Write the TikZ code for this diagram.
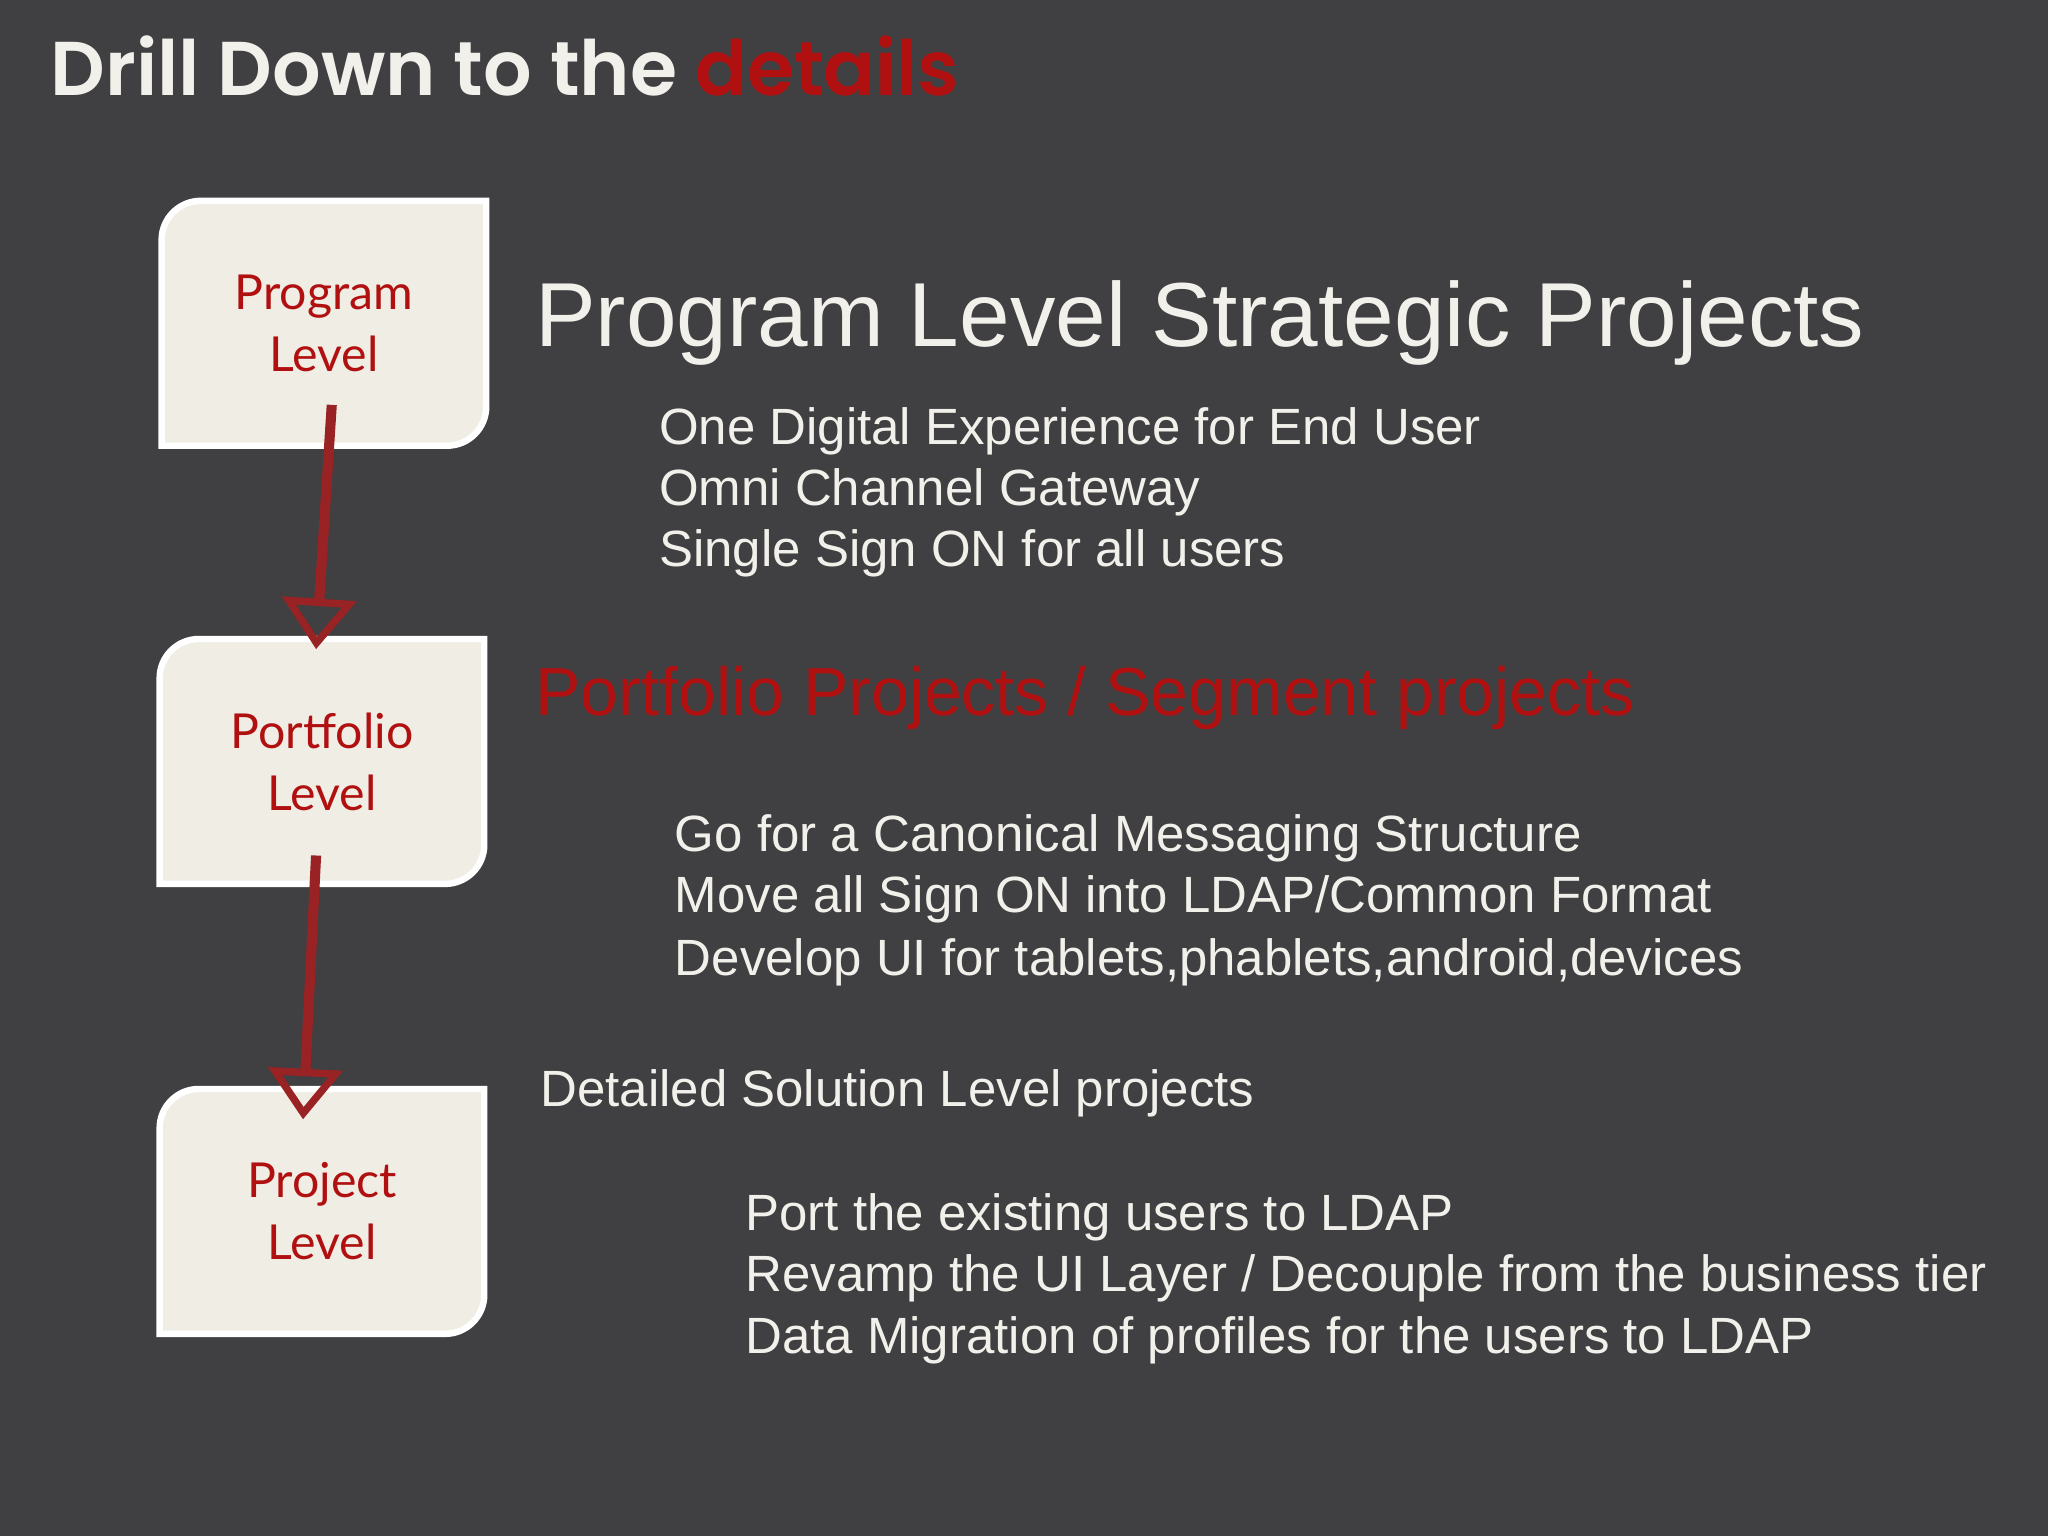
\documentclass[tikz,border=0pt]{standalone}
\usepackage{fontspec}
\setmainfont{Liberation Sans}
\newfontfamily\boxfont{Lato}
\newfontfamily\titlefont{Poppins SemiBold}
\usetikzlibrary{arrows.meta}
\definecolor{bg}{HTML}{403F41}
\definecolor{cream}{HTML}{F0EDE5}
\definecolor{dred}{HTML}{B01010}
\definecolor{arr}{HTML}{982224}
\definecolor{txt}{HTML}{F2F0EA}
\tikzset{
  box/.style={minimum width=2.47cm,minimum height=1.86cm,inner sep=0pt},
  boxtxt/.style={font=\boxfont\fontsize{10.5}{13.5}\selectfont,text=dred,align=center},
  item/.style={anchor=base west,inner sep=0pt,text=txt,font=\fontsize{11.1}{13}\selectfont},
  conn/.style={draw=arr,line width=2.2pt,-{Triangle[open,width=16pt,length=11pt,line width=1.6pt]}}
}
\newcommand{\boxshape}[1]{%
  \draw[white,line width=1.4pt,fill=cream]
   (#1.south west) -- ([yshift=-0.3cm]#1.north west) arc[start angle=180,end angle=90,radius=0.3cm]
   -- (#1.north east) -- ([yshift=0.3cm]#1.south east) arc[start angle=0,end angle=-90,radius=0.3cm] -- cycle;}
\begin{document}
\begin{tikzpicture}[x=0.01cm,y=-0.01cm]
\fill[bg] (0,0) rectangle (1568,1176);
\node[anchor=base west,inner sep=0pt,text=txt,font=\titlefont\fontsize{16.6}{20}\selectfont] (title) at (38,73) {Drill Down to the \textcolor{dred}{details}};
\node[box] (b1) at (248,247.5) {};
\node[box] (b2) at (246.5,583) {};
\node[box] (b3) at (246.5,927.5) {};
\boxshape{b1}\boxshape{b2}\boxshape{b3}
\node[boxtxt] (t1) at (b1) {Program\\Level};
\node[boxtxt] (t2) at (b2) {Portfolio\\Level};
\node[boxtxt] (t3) at (b3) {Project\\Level};
\coordinate (a1s) at (254,310); \coordinate (a1e) at (242,497);
\coordinate (a2s) at (242,655); \coordinate (a2e) at (232,857);
\draw[conn] (a1s) -- (a1e);
\draw[conn] (a2s) -- (a2e);
\node[anchor=base west,inner sep=0pt,text=txt,font=\fontsize{19.8}{24}\selectfont] (h1) at (409,265) {Program Level Strategic Projects};
\node[item] (i1) at (504,340) {One Digital Experience for End User};
\node[item] (i2) at (504,387) {Omni Channel Gateway};
\node[item] (i3) at (504,434) {Single Sign ON for all users};
\node[anchor=base west,inner sep=0pt,text=dred,font=\fontsize{14.8}{18}\selectfont] (h2) at (409,548) {Portfolio Projects / Segment projects};
\node[item] (j1) at (516,652) {Go for a Canonical Messaging Structure};
\node[item] (j2) at (516,699) {Move all Sign ON into LDAP/Common Format};
\node[item] (j3) at (516,747) {Develop UI for tablets,phablets,android,devices};
\node[item] (h3) at (413,847) {Detailed Solution Level projects};
\node[item] (k1) at (570,942) {Port the existing users to LDAP};
\node[item] (k2) at (570,989) {Revamp the UI Layer / Decouple from the business tier};
\node[item] (k3) at (570,1036) {Data Migration of profiles for the users to LDAP};
\end{tikzpicture}
\end{document}
